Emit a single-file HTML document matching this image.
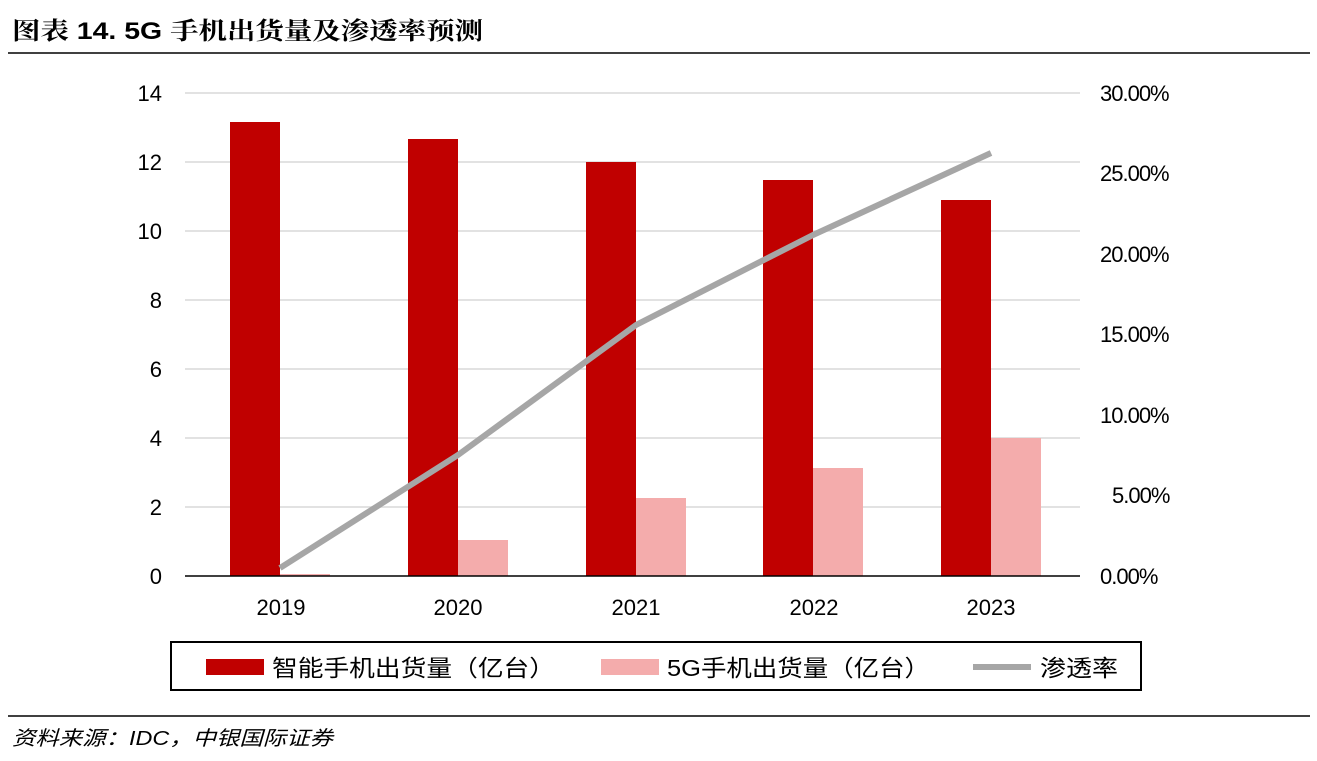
<!DOCTYPE html>
<html><head><meta charset="utf-8"><style>
body{margin:0;width:1317px;height:761px;background:#fff;overflow:hidden;font-family:"Liberation Sans","Noto Sans CJK SC",sans-serif}
</style></head><body>
<svg width="1317" height="761" xmlns="http://www.w3.org/2000/svg" style="position:absolute;left:0;top:0">
<text x="12" y="39" font-size="24" font-weight="bold" textLength="471" lengthAdjust="spacingAndGlyphs" font-family="Liberation Sans,Noto Serif CJK SC,sans-serif" fill="#000">图表 14. 5G 手机出货量及渗透率预测</text>
<line x1="8" y1="53" x2="1310" y2="53" stroke="#000" stroke-width="1.5"/>
<g stroke="#d9d9d9" stroke-width="1.5">
<line x1="185" y1="93" x2="1080" y2="93"/><line x1="185" y1="162" x2="1080" y2="162"/>
<line x1="185" y1="231" x2="1080" y2="231"/><line x1="185" y1="300" x2="1080" y2="300"/>
<line x1="185" y1="369" x2="1080" y2="369"/><line x1="185" y1="438" x2="1080" y2="438"/>
<line x1="185" y1="507" x2="1080" y2="507"/>
</g>
<g fill="#c00000">
<rect x="230" y="122" width="50" height="454"/><rect x="408" y="139" width="50" height="437"/>
<rect x="586" y="162" width="50" height="414"/><rect x="763" y="180" width="50" height="396"/>
<rect x="941" y="200" width="50" height="376"/>
</g>
<g fill="#f4acac">
<rect x="280" y="574" width="50" height="2"/><rect x="458" y="540" width="50" height="36"/>
<rect x="636" y="498" width="50" height="78"/><rect x="813" y="468" width="50" height="108"/>
<rect x="991" y="438" width="50" height="138"/>
</g>
<line x1="185" y1="576" x2="1080" y2="576" stroke="#000" stroke-width="1.5"/>
<polyline points="280,568 458,455 636,325 813,235 991,153" fill="none" stroke="#a6a6a6" stroke-width="6" stroke-linejoin="round"/>
<g font-size="22" fill="#000" text-anchor="end">
<text x="162" y="101">14</text><text x="162" y="170">12</text><text x="162" y="239">10</text>
<text x="162" y="308">8</text><text x="162" y="377">6</text><text x="162" y="446">4</text>
<text x="162" y="515">2</text><text x="162" y="584">0</text>
</g>
<g font-size="22" fill="#000" text-anchor="start" letter-spacing="-1">
<text x="1100" y="101">30.00%</text><text x="1100" y="181">25.00%</text><text x="1100" y="262">20.00%</text>
<text x="1100" y="342">15.00%</text><text x="1100" y="423">10.00%</text><text x="1112" y="503">5.00%</text>
<text x="1100" y="584">0.00%</text>
</g>
<g font-size="22" fill="#000" text-anchor="middle">
<text x="281" y="615">2019</text><text x="458" y="615">2020</text><text x="636" y="615">2021</text>
<text x="814" y="615">2022</text><text x="991" y="615">2023</text>
</g>
<rect x="171" y="642" width="970" height="48" fill="#fff" stroke="#000" stroke-width="2"/>
<rect x="206" y="659" width="58" height="16" fill="#c00000"/>
<text x="272" y="676" font-size="23" textLength="283" lengthAdjust="spacingAndGlyphs">智能手机出货量（亿台）</text>
<rect x="601" y="659" width="58" height="16" fill="#f4acac"/>
<text x="667" y="676" font-size="23" textLength="263" lengthAdjust="spacingAndGlyphs">5G手机出货量（亿台）</text>
<line x1="973" y1="667" x2="1031" y2="667" stroke="#a6a6a6" stroke-width="6"/>
<text x="1040" y="676" font-size="23" textLength="78" lengthAdjust="spacingAndGlyphs">渗透率</text>
<line x1="8" y1="716" x2="1310" y2="716" stroke="#000" stroke-width="1.5"/>
<text x="12" y="745" font-size="20" font-style="italic" textLength="321" lengthAdjust="spacingAndGlyphs">资料来源：IDC，中银国际证券</text>
</svg>
</body></html>
